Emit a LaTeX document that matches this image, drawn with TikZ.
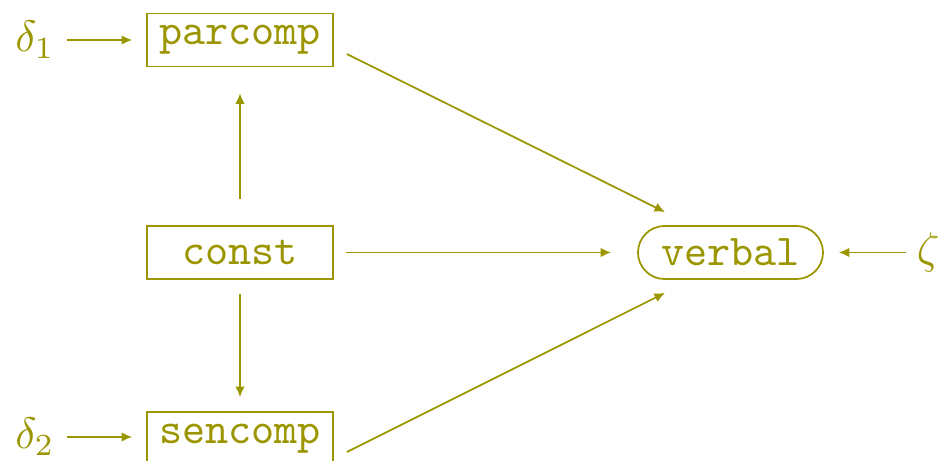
\documentclass[tikz,border=0pt]{standalone}
\usetikzlibrary{calc,arrows.meta,shapes.misc}
\definecolor{pathcol}{RGB}{155,150,0}
\newlength{\pxu}
\setlength{\pxu}{0.2273pt}
\begin{document}
\begin{tikzpicture}[
    x=\pxu, y=-\pxu,
    every node/.style={text=pathcol},
    varbox/.style={draw=pathcol, line width=0.4pt, rectangle,
      minimum width=186\pxu, minimum height=53\pxu, inner sep=0pt,
      font=\fontsize{10}{12}\selectfont\ttfamily},
    endbox/.style={draw=pathcol, line width=0.4pt, rounded rectangle,
      minimum width=185\pxu, minimum height=53\pxu, inner sep=0pt,
      font=\fontsize{10}{12}\selectfont\ttfamily},
    errlabel/.style={inner sep=0pt, font=\fontsize{10}{12}\selectfont},
    path/.style={draw=pathcol, line width=0.4pt,
      -{Latex[length=2.4pt,width=2.2pt]}}
  ]
  \useasboundingbox (0,0) rectangle (946,461);

  % observed variables
  \node[varbox] (parcomp) at (240,40)    {parcomp};
  \node[varbox] (const)   at (240,252.5) {const};
  \node[varbox] (sencomp) at (240,438.5) {sencomp};
  \node[endbox] (verbal)  at (730.5,252.5) {verbal};

  % error terms
  \node[errlabel] (d1)   at (35,40)  {$\delta_1$};
  \node[errlabel] (d2)   at (35,437) {$\delta_2$};
  \node[errlabel] (zeta) at (928,253) {$\zeta$};

  % error paths
  \draw[path] ($(parcomp.west)+(-79,0)$) -- ($(parcomp.west)+(-14,0)$);
  \draw[path] ($(sencomp.west)+(-79,-1.5)$) -- ($(sencomp.west)+(-14,-1.5)$);
  \draw[path] ($(verbal.east)+(82,0)$) -- ($(verbal.east)+(15,0)$);

  % structural paths
  \draw[path] ($(const.north)+(0,-26)$) -- ($(parcomp.south)+(0,26)$);
  \draw[path] ($(const.south)+(0,14)$) -- ($(sencomp.north)+(0,-14)$);
  \draw[path] ($(const.east)+(12,0)$) -- ($(verbal.west)+(-26,0)$);
  \draw[path] ($(parcomp.east)+(13,14)$) -- ($(verbal.north)+(-65.5,-13)$);
  \draw[path] ($(sencomp.east)+(13,13.5)$) -- ($(verbal.south)+(-65.5,13)$);
\end{tikzpicture}
\end{document}
